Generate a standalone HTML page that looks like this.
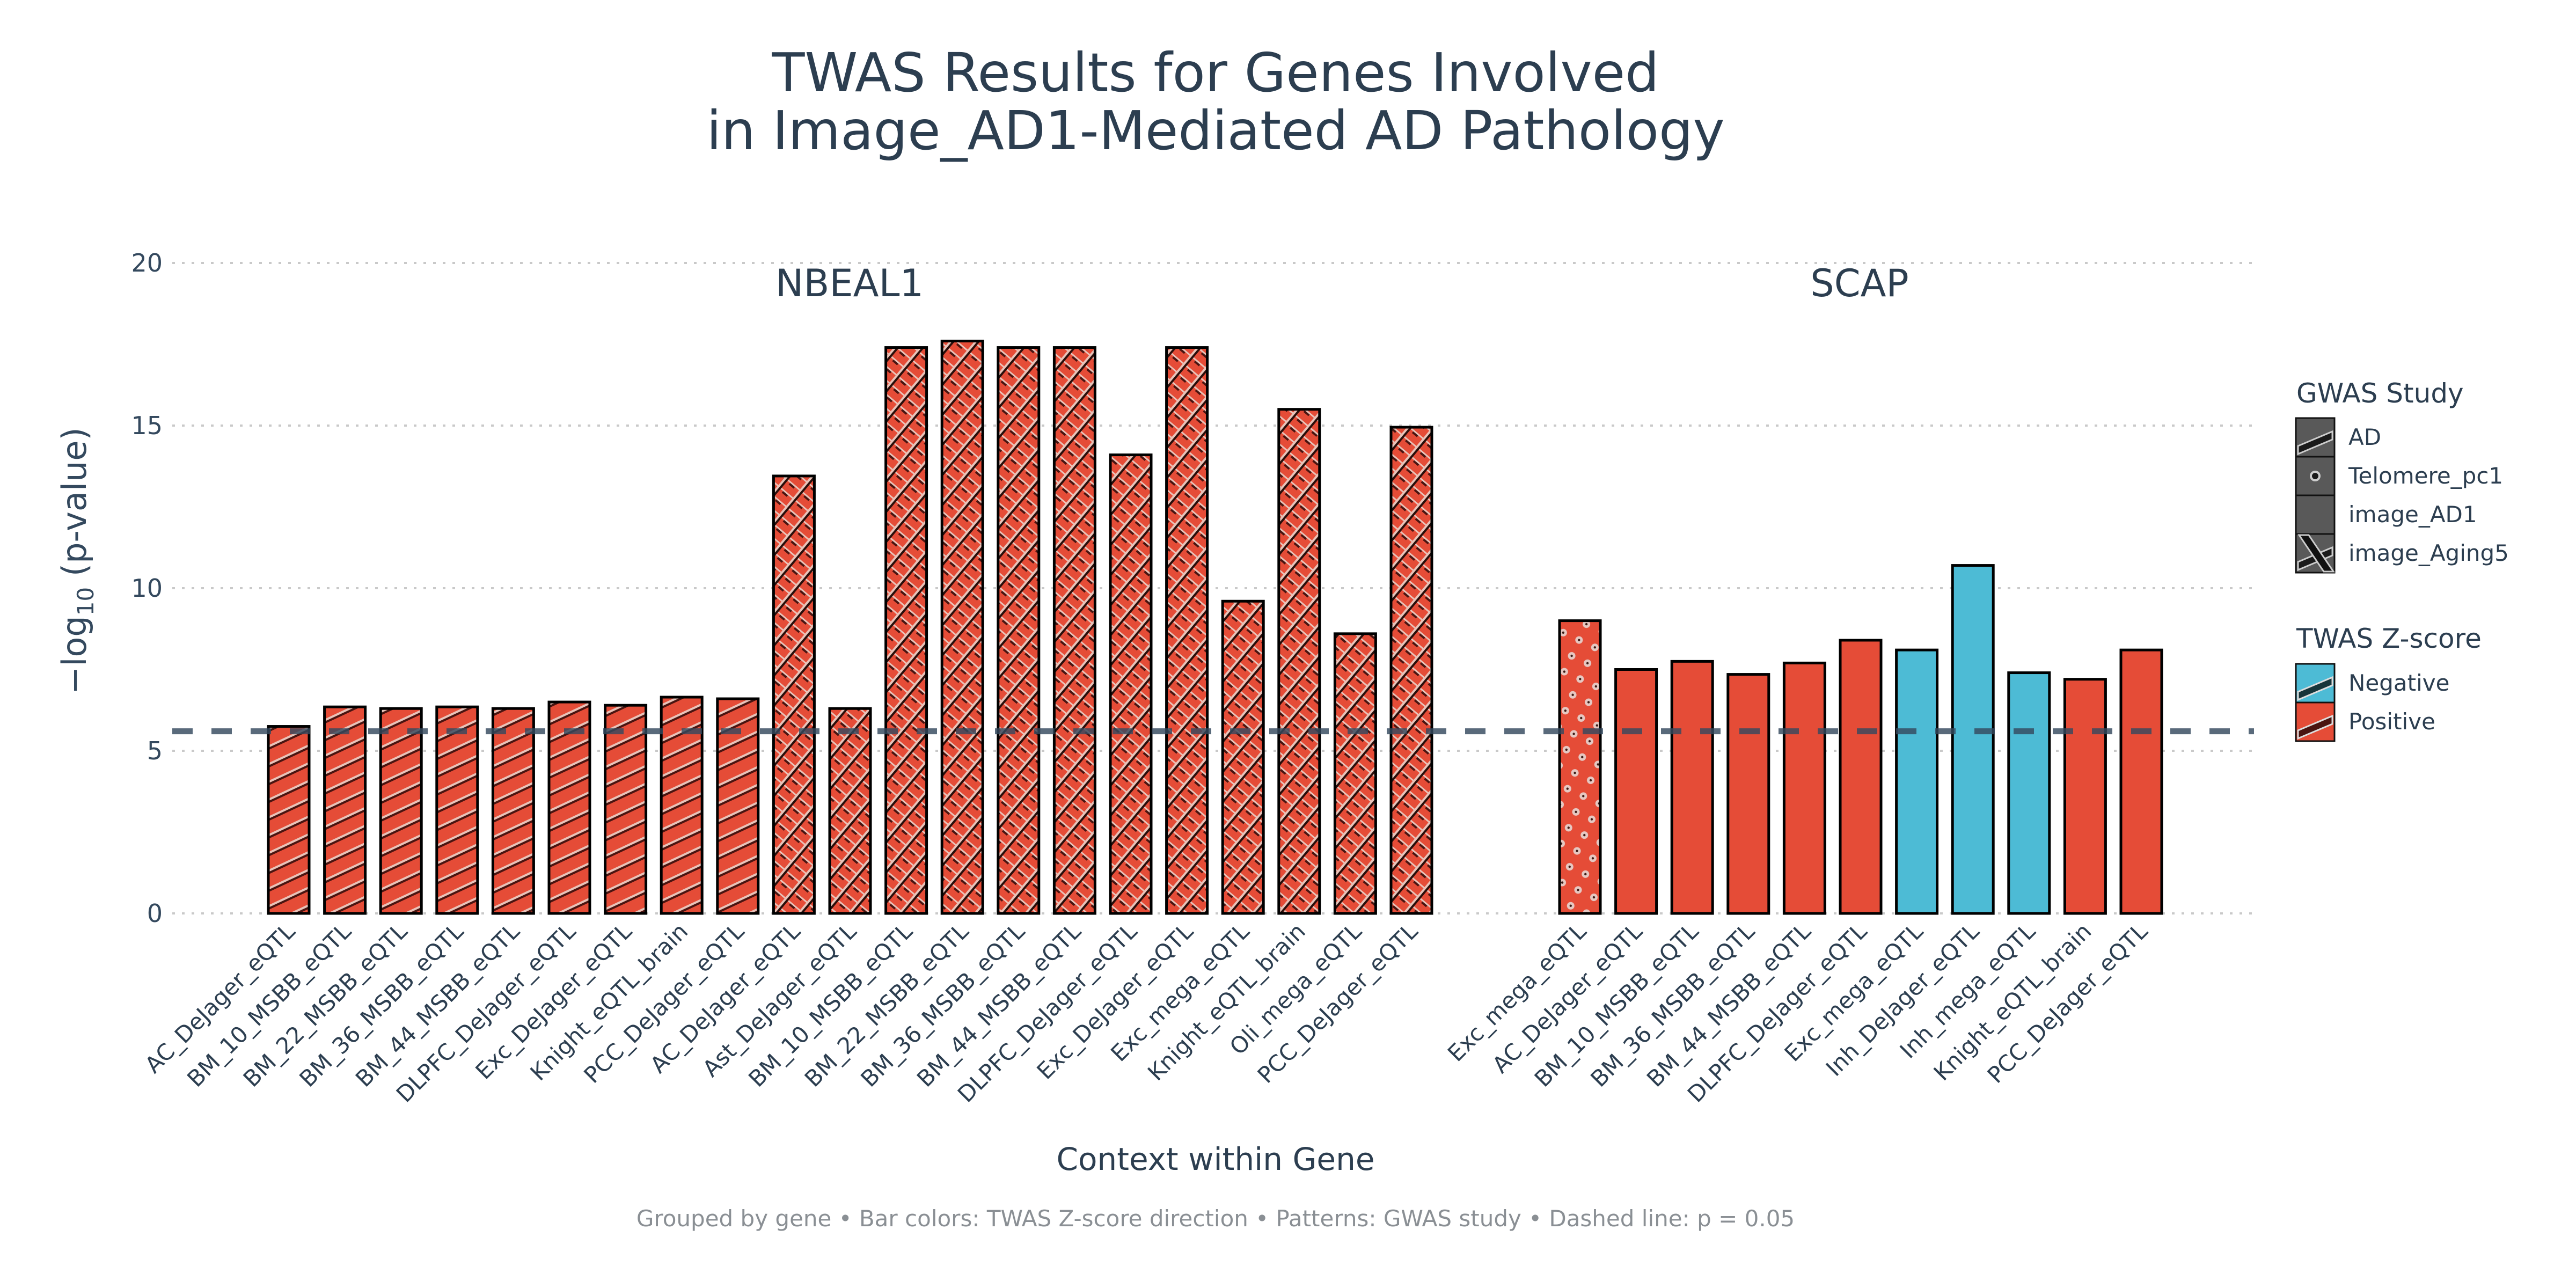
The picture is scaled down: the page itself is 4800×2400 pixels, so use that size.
<!DOCTYPE html>
<html><head><meta charset="utf-8"><style>
html,body{margin:0;padding:0;background:#fff;}
svg{display:block;font-family:"DejaVu Sans","Liberation Sans",sans-serif;}
</style></head><body>
<svg id="chart" width="4800" height="2400" viewBox="0 0 4800 2400" xmlns="http://www.w3.org/2000/svg">
<defs>
  <pattern id="pAD" patternUnits="userSpaceOnUse" width="30" height="30" patternTransform="rotate(-25)">
    <rect width="30" height="30" fill="#E54C37"/>
    <rect y="0" width="30" height="4" fill="#e9c3b9"/>
    <rect y="4" width="30" height="4" fill="#4a1410"/>
  </pattern>
  <pattern id="pAG" patternUnits="userSpaceOnUse" width="36" height="20" patternTransform="rotate(40)">
    <rect width="36" height="20" fill="#E54C37"/>
    <rect x="0" y="0" width="4" height="20" fill="#e9c3b9"/>
    <rect x="4" y="0" width="4" height="20" fill="#2a0e0a"/>
    <rect x="8" y="0" width="28" height="3" fill="#e9c3b9"/>
    <rect x="14" y="3" width="12" height="4" fill="#4a1410"/>
  </pattern>
  <pattern id="pTL" patternUnits="userSpaceOnUse" width="46" height="46" patternTransform="rotate(-20)">
    <rect width="46" height="46" fill="#E54C37"/>
    <circle cx="11" cy="11" r="7" fill="#e6c8c2"/><circle cx="11" cy="11" r="2.2" fill="#3a1a14"/>
    <circle cx="34" cy="34" r="7" fill="#e6c8c2"/><circle cx="34" cy="34" r="2.2" fill="#3a1a14"/>
  </pattern>
</defs>
<g id="grid"></g>
<g id="bars"></g>
<g id="overlay"></g>
<g id="labels"></g>
<text x="2265" y="170" text-anchor="middle" font-size="100" fill="#2c3e50">TWAS Results for Genes Involved</text>
<text x="2265" y="278" text-anchor="middle" font-size="100" fill="#2c3e50">in Image_AD1-Mediated AD Pathology</text>
<text x="1583" y="552" text-anchor="middle" font-size="70" fill="#2c3e50">NBEAL1</text>
<text x="3465" y="552" text-anchor="middle" font-size="70" fill="#2c3e50">SCAP</text>
<text transform="translate(160,1045) rotate(-90)" text-anchor="middle" font-size="62" fill="#34495e">−log<tspan font-size="42" dy="14">10</tspan><tspan dy="-14"> (p-value)</tspan></text>
<text x="2265" y="2180" text-anchor="middle" font-size="58" fill="#2c3e50">Context within Gene</text>
<text x="2265" y="2285" text-anchor="middle" font-size="42" fill="#8a8f94">Grouped by gene • Bar colors: TWAS Z-score direction • Patterns: GWAS study • Dashed line: p = 0.05</text>
<g id="legend">
  <text x="4279" y="750" font-size="50" fill="#2c3e50">GWAS Study</text>
  <text x="4279" y="1207" font-size="50" fill="#2c3e50">TWAS Z-score</text>
</g>
</svg>
<script>
const nbealCats = ["AC_DeJager_eQTL","BM_10_MSBB_eQTL","BM_22_MSBB_eQTL","BM_36_MSBB_eQTL","BM_44_MSBB_eQTL","DLPFC_DeJager_eQTL","Exc_DeJager_eQTL","Knight_eQTL_brain","PCC_DeJager_eQTL","AC_DeJager_eQTL","Ast_DeJager_eQTL","BM_10_MSBB_eQTL","BM_22_MSBB_eQTL","BM_36_MSBB_eQTL","BM_44_MSBB_eQTL","DLPFC_DeJager_eQTL","Exc_DeJager_eQTL","Exc_mega_eQTL","Knight_eQTL_brain","Oli_mega_eQTL","PCC_DeJager_eQTL"];
const nbealVals = [5.75,6.35,6.3,6.35,6.3,6.5,6.4,6.65,6.6,13.45,6.3,17.4,17.6,17.4,17.4,14.1,17.4,9.6,15.5,8.6,14.95];
const nbealStudy = ["AD","AD","AD","AD","AD","AD","AD","AD","AD","image_Aging5","image_Aging5","image_Aging5","image_Aging5","image_Aging5","image_Aging5","image_Aging5","image_Aging5","image_Aging5","image_Aging5","image_Aging5","image_Aging5"];
const nbealSign = ["Positive","Positive","Positive","Positive","Positive","Positive","Positive","Positive","Positive","Positive","Positive","Positive","Positive","Positive","Positive","Positive","Positive","Positive","Positive","Positive","Positive"];
const scapCats = ["Exc_mega_eQTL","AC_DeJager_eQTL","BM_10_MSBB_eQTL","BM_36_MSBB_eQTL","BM_44_MSBB_eQTL","DLPFC_DeJager_eQTL","Exc_mega_eQTL","Inh_DeJager_eQTL","Inh_mega_eQTL","Knight_eQTL_brain","PCC_DeJager_eQTL"];
const scapVals = [9.0,7.5,7.75,7.35,7.7,8.4,8.1,10.7,7.4,7.2,8.1];
const scapStudy = ["Telomere_pc1","image_AD1","image_AD1","image_AD1","image_AD1","image_AD1","image_AD1","image_AD1","image_AD1","image_AD1","image_AD1"];
const scapSign = ["Positive","Positive","Positive","Positive","Positive","Positive","Negative","Negative","Negative","Positive","Positive"];
const yTicks = [0,5,10,15,20];
const threshold = 5.6;

const NS = "http://www.w3.org/2000/svg";
const Y0 = 1702, PXU = 60.6;
function y(v){ return Y0 - v*PXU; }
function xN(i){ return 538 + i*104.6; }
function xS(i){ return 2944 + i*104.6; }
const BW = 76;
function mk(tag, attrs, parent){ const e=document.createElementNS(NS,tag); for(const k in attrs) e.setAttribute(k,attrs[k]); parent.appendChild(e); return e; }
const grid=document.getElementById('grid'), bars=document.getElementById('bars'), overlay=document.getElementById('overlay'), labels=document.getElementById('labels');

yTicks.forEach(t=>{
  const l=mk('line',{x1:321,x2:4200,y1:y(t),y2:y(t),stroke:'#c9c9c9','stroke-width':4,'stroke-dasharray':'5,13'},grid);
  
  
  const tx=mk('text',{x:303,y:y(t)+16,'text-anchor':'end','font-size':46,fill:'#34495e'},grid);
  tx.textContent=t;
  
  
});

function fillFor(study, sign){
  if(study==='AD') return 'url(#pAD)';
  if(study==='image_Aging5') return 'url(#pAG)';
  if(study==='Telomere_pc1') return 'url(#pTL)';
  return sign==='Negative' ? '#4DBBD5' : '#E54C37';
}
function drawSet(cats, vals, study, sign, xf, gene){
  cats.forEach((c,i)=>{
    const cx=xf(i), top=y(vals[i]);
    const r=mk('rect',{x:cx-BW/2,y:top,width:BW,height:Y0-top,fill:fillFor(study[i],sign[i]),stroke:'#000','stroke-width':5},bars);
    
    
    const t=mk('text',{transform:'translate('+(cx+14)+',1738) rotate(-45)','text-anchor':'end','font-size':42,fill:'#2c3e50'},labels);
    t.textContent=c;
    
    
  });
}
drawSet(nbealCats,nbealVals,nbealStudy,nbealSign,xN,'nbeal1');
drawSet(scapCats,scapVals,scapStudy,scapSign,xS,'scap');

const th=mk('line',{x1:321,x2:4200,y1:y(threshold),y2:y(threshold),stroke:'#34495e','stroke-opacity':0.82,'stroke-width':11,'stroke-dasharray':'38,35'},overlay);



const lg=document.getElementById('legend');
const gwasItems=["AD","Telomere_pc1","image_AD1","image_Aging5"];
gwasItems.forEach((n,i)=>{
  const ty=779+i*72;
  const g=mk('g',{},lg);
  
  
  mk('rect',{x:4278,y:ty,width:72,height:72,fill:'#595959',stroke:'#111','stroke-width':3},g);
  if(n==='AD'){ mk('polygon',{points:(4282)+','+(ty+52)+' '+(4346)+','+(ty+25)+' '+(4346)+','+(ty+40)+' '+(4282)+','+(ty+67),fill:'#1a1a1a',stroke:'#ccc','stroke-width':3},g); }
  if(n==='Telomere_pc1'){ mk('circle',{cx:4314,cy:ty+36,r:8,fill:'#1a1a1a',stroke:'#ccc','stroke-width':4},g); }
  if(n==='image_Aging5'){
    mk('polygon',{points:(4282)+','+(ty+52)+' '+(4346)+','+(ty+25)+' '+(4346)+','+(ty+40)+' '+(4282)+','+(ty+67),fill:'#1a1a1a',stroke:'#ccc','stroke-width':3},g);
    mk('polygon',{points:(4284)+','+(ty+2)+' '+(4302)+','+(ty+2)+' '+(4348)+','+(ty+70)+' '+(4330)+','+(ty+70),fill:'#111',stroke:'#ccc','stroke-width':3},g);
  }
  const t=mk('text',{x:4376,y:ty+50,'font-size':42,fill:'#2c3e50'},g); t.textContent=n;
});
[["Negative","#4DBBD5","#17353a"],["Positive","#E54C37","#4a1410"]].forEach((d,i)=>{
  const ty=1237+i*72;
  const g=mk('g',{},lg);
  
  
  mk('rect',{x:4278,y:ty,width:72,height:72,fill:d[1],stroke:'#111','stroke-width':3},g);
  mk('polygon',{points:(4282)+','+(ty+52)+' '+(4346)+','+(ty+25)+' '+(4346)+','+(ty+40)+' '+(4282)+','+(ty+67),fill:d[2],stroke:'#ddd','stroke-width':3},g);
  const t=mk('text',{x:4376,y:ty+50,'font-size':42,fill:'#2c3e50'},g); t.textContent=d[0];
});
</script>
</body></html>
